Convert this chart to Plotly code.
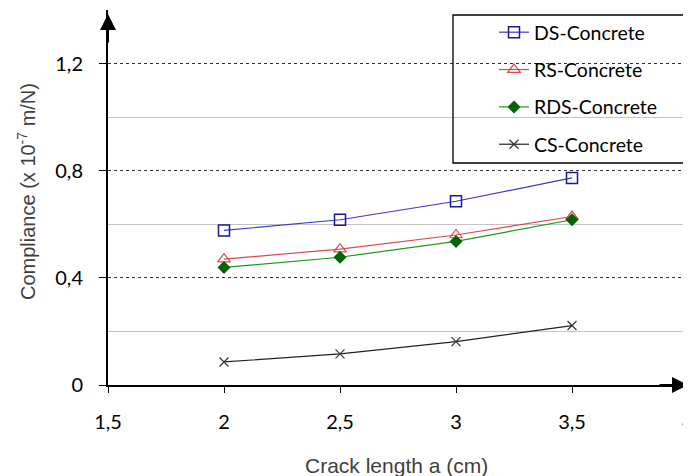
import plotly.graph_objects as go

crack_length = [2, 2.5, 3, 3.5]
ds_concrete = [0.577, 0.617, 0.686, 0.773]
rs_concrete = [0.470, 0.507, 0.560, 0.629]
rds_concrete = [0.439, 0.477, 0.536, 0.617]
cs_concrete = [0.086, 0.116, 0.162, 0.222]

series = [
    ("DS-Concrete", ds_concrete, "#3a3ad0", dict(symbol="square-open", size=11, color="#1a1a8a", line=dict(width=1.5))),
    ("RS-Concrete", rs_concrete, "#e0474c", dict(symbol="triangle-up-open", size=11, color="#e0474c", line=dict(width=1.2))),
    ("RDS-Concrete", rds_concrete, "#1a9a1a", dict(symbol="diamond", size=10, color="#006400")),
    ("CS-Concrete", cs_concrete, "#222222", dict(symbol="x-thin-open", size=9, color="#333333", line=dict(width=1.2))),
]

fig = go.Figure()
for i, (name, vals, lc, mk) in enumerate(series):
    fig.add_trace(go.Scatter(
        x=crack_length, y=vals, name=name, mode="lines+markers",
        line=dict(color=lc, width=1.2), marker=mk, legendgroup=f"g{i}",
    ))

font_main = "Lato, Calibri, 'Noto Sans', sans-serif"
font_title = "'Liberation Sans', Arial, sans-serif"

# page body has an 8px margin: the figure is shrunk so the plot area lands where the reference has it
W, H = 683, 468
ML, MR, MT, MB = 100, 3, 2, 91
plot_w = W - ML - MR
plot_h = H - MT - MB

def px_x(px):
    return (px - 8 - ML) / plot_w

def px_y(py):
    return (H - MB - (py - 8)) / plot_h

fig.update_layout(
    width=W, height=H,
    margin=dict(l=ML, r=MR, t=MT, b=MB, autoexpand=False),
    plot_bgcolor="white", paper_bgcolor="white",
    separators=", ",
    font=dict(family=font_main, size=20, color="black"),
    showlegend=True,
    legend=dict(
        x=px_x(494), y=px_y(13), xanchor="left", yanchor="top",
        bgcolor="rgba(0,0,0,0)", borderwidth=0,
        tracegroupgap=9, font=dict(size=19.5, family=font_main),
    ),
    xaxis=dict(
        range=[1.5, 4], dtick=0.5, tick0=1.5, automargin=False,
        showgrid=False, zeroline=False,
        showline=True, linecolor="black", linewidth=1.5,
        ticks="outside", ticklen=6, tickcolor="black", tickwidth=1,
        ticklabelstandoff=12, ticklabeloverflow="allow",
    ),
    yaxis=dict(
        range=[0, 1.4], dtick=0.4, tick0=0, automargin=False,
        showgrid=True, gridcolor="#333333", griddash="dot", gridwidth=1,
        zeroline=False,
        showline=True, linecolor="black", linewidth=2,
        ticks="outside", ticklen=7, tickcolor="black", tickwidth=1,
        ticklabelstandoff=12,
        minor=dict(dtick=0.2, tick0=0, showgrid=True, gridcolor="#c4c4c4",
                   gridwidth=1, griddash="solid", ticks=""),
    ),
    shapes=[
        dict(type="rect", xref="paper", yref="paper",
             x0=px_x(453), x1=px_x(690), y0=px_y(163), y1=px_y(15),
             line=dict(color="black", width=1.3), fillcolor="rgba(0,0,0,0)", layer="above"),
    ],
    annotations=[
        dict(x=1.5, y=1.385, xref="x", yref="y", ax=0, ay=30, showarrow=True,
             arrowhead=2, arrowsize=1.6, arrowwidth=2, arrowcolor="black", text=""),
        dict(x=4, y=0, xref="x", yref="y", ax=-30, ay=0, showarrow=True,
             arrowhead=2, arrowsize=1.6, arrowwidth=2, arrowcolor="black", text=""),
        dict(x=px_x(396), y=px_y(465), xref="paper", yref="paper", showarrow=False,
             xanchor="center", yanchor="middle",
             text="Crack length a (cm)",
             font=dict(family=font_title, size=21, color="#404040")),
        dict(x=px_x(27), y=px_y(192), xref="paper", yref="paper", showarrow=False,
             xanchor="center", yanchor="middle", textangle=-90,
             text="Compliance (x 10<sup>-7</sup> m/N)",
             font=dict(family=font_title, size=20, color="#404040")),
    ],
)

fig.write_html("out.html")
